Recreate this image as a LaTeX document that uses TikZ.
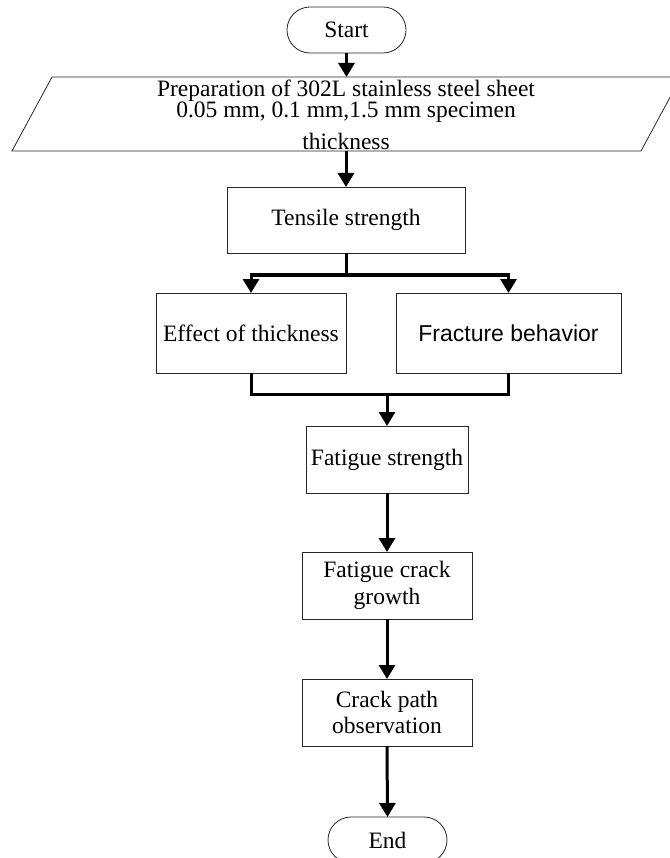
\documentclass[tikz,border=0pt]{standalone}
\usepackage{fontspec}
\setmainfont{Liberation Serif}
\newfontfamily\arialfont{Liberation Sans}
\usetikzlibrary{arrows.meta}
\begin{document}
\begin{tikzpicture}[x=1pt,y=-1pt,
  every node/.style={inner sep=0pt,outer sep=0pt,font=\fontsize{23.5}{26.5}\selectfont,align=center},
  box/.style={draw=black!85,line width=0.8pt,rectangle},
  term/.style={draw=black!85,line width=0.8pt,rectangle,rounded corners=23pt,minimum width=119pt,minimum height=46pt},
  flow/.style={line width=3pt,-{Triangle[width=16pt,length=14pt]}},
  joinline/.style={line width=3pt}]
\useasboundingbox (0,0) rectangle (669,858);
% nodes
\node[term] (start) at (346.5,30) {Start};
\node[minimum width=629pt,minimum height=74pt] (prepbox) at (346.5,114) {};
\node[font=\fontsize{23.5}{20}\selectfont] (prep) at (346,114.5) {Preparation of 302L stainless steel sheet\\0.05 mm, 0.1 mm,1.5 mm specimen\\[9pt]thickness};
\draw[black!85,line width=0.8pt] (52,77) -- (681,77) -- (641,151) -- (12,151) -- cycle;
\node[box,minimum width=238pt,minimum height=66pt] (tensile) at (346,220) {Tensile strength};
\node[box,minimum width=190pt,minimum height=80pt] (effect) at (251,333) {Effect of thickness};
\node[box,minimum width=225pt,minimum height=80pt,font=\arialfont\fontsize{23}{26}\selectfont] (fracture) at (508.5,333) {Fracture behavior};
\node[box,minimum width=162pt,minimum height=67pt] (fatigue) at (387,459.5) {Fatigue strength};
\node[box,minimum width=170pt,minimum height=67pt] (growth) at (387,585.5) {Fatigue crack\\growth};
\node[box,minimum width=170pt,minimum height=67pt] (path) at (387,712.5) {Crack path\\observation};
\node[term] (end) at (387.5,840) {End};
% connectors
\draw[flow] (start.south) -- (start.south |- prepbox.north);
\draw[flow] (tensile.north |- prepbox.south) -- (tensile.north);
\coordinate (split) at (346,275);
\coordinate (splitL) at (effect.north |- split);
\coordinate (splitR) at (fracture.north |- split);
\draw[joinline] (tensile.south) -- (split);
\draw[joinline] ([xshift=-1.5pt]splitL) -- ([xshift=1.5pt]splitR);
\draw[flow] (splitL) -- (effect.north);
\draw[flow] (splitR) -- (fracture.north);
\coordinate (mergeL) at ([yshift=-21pt]effect.south);
\coordinate (mergeR) at (fracture.south |- mergeL);
\coordinate (merge) at (fatigue.north |- mergeL);
\draw[joinline,line join=miter] (effect.south) -- (mergeL) -- (mergeR) -- (fracture.south);
\draw[flow] (merge) -- (fatigue.north);
\draw[flow] (fatigue.south) -- (growth.north);
\draw[flow] (growth.south) -- (path.north);
\draw[flow] (path.south) -- (end.north);
\end{tikzpicture}
\end{document}
